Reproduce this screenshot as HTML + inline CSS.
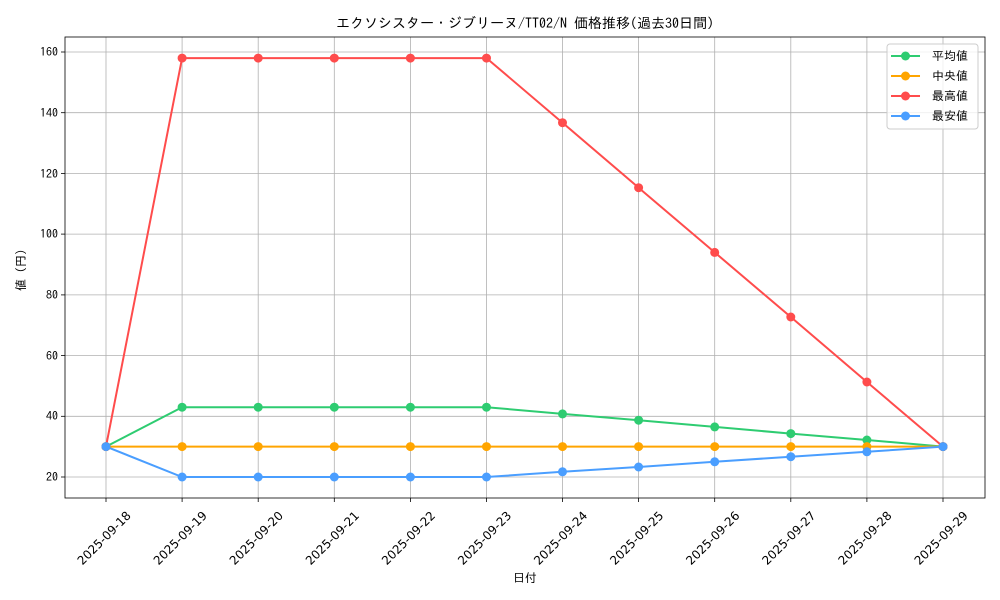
<!DOCTYPE html><html><head><meta charset="utf-8"><style>body{margin:0;background:#fff}svg{display:block;font-family:"IPAGothic","Liberation Sans","Noto Sans CJK JP",sans-serif}</style></head><body>
<svg width="1000" height="600" xmlns="http://www.w3.org/2000/svg">
<rect width="1000" height="600" fill="#fff"/>
<g stroke="#b0b0b0" stroke-width="0.8">
<line x1="106" y1="37" x2="106" y2="498"/><line x1="182.1" y1="37" x2="182.1" y2="498"/><line x1="258.2" y1="37" x2="258.2" y2="498"/><line x1="334.3" y1="37" x2="334.3" y2="498"/><line x1="410.4" y1="37" x2="410.4" y2="498"/><line x1="486.5" y1="37" x2="486.5" y2="498"/><line x1="562.5" y1="37" x2="562.5" y2="498"/><line x1="638.6" y1="37" x2="638.6" y2="498"/><line x1="714.7" y1="37" x2="714.7" y2="498"/><line x1="790.8" y1="37" x2="790.8" y2="498"/><line x1="866.9" y1="37" x2="866.9" y2="498"/><line x1="943" y1="37" x2="943" y2="498"/>
<line x1="65" y1="52" x2="985" y2="52"/><line x1="65" y1="112.7" x2="985" y2="112.7"/><line x1="65" y1="173.4" x2="985" y2="173.4"/><line x1="65" y1="234.1" x2="985" y2="234.1"/><line x1="65" y1="294.9" x2="985" y2="294.9"/><line x1="65" y1="355.6" x2="985" y2="355.6"/><line x1="65" y1="416.3" x2="985" y2="416.3"/><line x1="65" y1="477" x2="985" y2="477"/>
</g>
<rect x="65" y="37" width="920" height="461" fill="none" stroke="#000" stroke-width="0.8"/>
<g stroke="#000" stroke-width="0.8">
<line x1="61" y1="52" x2="65" y2="52"/><line x1="61" y1="112.7" x2="65" y2="112.7"/><line x1="61" y1="173.4" x2="65" y2="173.4"/><line x1="61" y1="234.1" x2="65" y2="234.1"/><line x1="61" y1="294.9" x2="65" y2="294.9"/><line x1="61" y1="355.6" x2="65" y2="355.6"/><line x1="61" y1="416.3" x2="65" y2="416.3"/><line x1="61" y1="477" x2="65" y2="477"/>
<line x1="106" y1="498" x2="106" y2="502"/><line x1="182.1" y1="498" x2="182.1" y2="502"/><line x1="258.2" y1="498" x2="258.2" y2="502"/><line x1="334.3" y1="498" x2="334.3" y2="502"/><line x1="410.4" y1="498" x2="410.4" y2="502"/><line x1="486.5" y1="498" x2="486.5" y2="502"/><line x1="562.5" y1="498" x2="562.5" y2="502"/><line x1="638.6" y1="498" x2="638.6" y2="502"/><line x1="714.7" y1="498" x2="714.7" y2="502"/><line x1="790.8" y1="498" x2="790.8" y2="502"/><line x1="866.9" y1="498" x2="866.9" y2="502"/><line x1="943" y1="498" x2="943" y2="502"/>
</g>
<g font-size="12" text-anchor="end">
<text x="58" y="56">160</text><text x="58" y="117">140</text><text x="58" y="178">120</text><text x="58" y="238">100</text><text x="58" y="299">80</text><text x="58" y="360">60</text><text x="58" y="420">40</text><text x="58" y="481">20</text>
</g>
<g font-size="12" text-anchor="middle" font-family="DejaVu Sans, sans-serif">
<text transform="translate(107,541) rotate(-45)">2025-09-18</text>
<text transform="translate(183.1,541) rotate(-45)">2025-09-19</text>
<text transform="translate(259.2,541) rotate(-45)">2025-09-20</text>
<text transform="translate(335.3,541) rotate(-45)">2025-09-21</text>
<text transform="translate(411.4,541) rotate(-45)">2025-09-22</text>
<text transform="translate(487.5,541) rotate(-45)">2025-09-23</text>
<text transform="translate(563.5,541) rotate(-45)">2025-09-24</text>
<text transform="translate(639.6,541) rotate(-45)">2025-09-25</text>
<text transform="translate(715.7,541) rotate(-45)">2025-09-26</text>
<text transform="translate(791.8,541) rotate(-45)">2025-09-27</text>
<text transform="translate(867.9,541) rotate(-45)">2025-09-28</text>
<text transform="translate(944,541) rotate(-45)">2025-09-29</text>
</g>
<text x="525" y="582" font-size="12" text-anchor="middle">日付</text>
<text transform="translate(25,270) rotate(-90)" font-size="12" text-anchor="middle">値 (円)</text>
<text x="525" y="28" font-size="14" text-anchor="middle">エクソシスター・ジブリーヌ/TT02/N 価格推移(過去30日間)</text>
<g fill="none" stroke-width="2">
<polyline stroke="#2ecc71" points="106,446.6 182.1,407.2 258.2,407.2 334.3,407.2 410.4,407.2 486.5,407.2 562.5,413.9 638.6,420.2 714.7,426.9 790.8,433.6 866.9,440 943,446.6"/>
<polyline stroke="#ffa500" points="106,446.6 943,446.6"/>
<polyline stroke="#ff4c4c" points="106,446.6 182.1,58.1 258.2,58.1 334.3,58.1 410.4,58.1 486.5,58.1 562.5,122.7 638.6,187.7 714.7,252.4 790.8,317 866.9,382 943,446.6"/>
<polyline stroke="#4a9eff" points="106,446.6 182.1,477 258.2,477 334.3,477 410.4,477 486.5,477 562.5,471.8 638.6,467 714.7,461.8 790.8,456.7 866.9,451.8 943,446.6"/>
</g>
<g fill="#2ecc71"><circle cx="106" cy="446.6" r="4.5"/><circle cx="182.1" cy="407.2" r="4.5"/><circle cx="258.2" cy="407.2" r="4.5"/><circle cx="334.3" cy="407.2" r="4.5"/><circle cx="410.4" cy="407.2" r="4.5"/><circle cx="486.5" cy="407.2" r="4.5"/><circle cx="562.5" cy="413.9" r="4.5"/><circle cx="638.6" cy="420.2" r="4.5"/><circle cx="714.7" cy="426.9" r="4.5"/><circle cx="790.8" cy="433.6" r="4.5"/><circle cx="866.9" cy="440" r="4.5"/><circle cx="943" cy="446.6" r="4.5"/></g>
<g fill="#ffa500"><circle cx="106" cy="446.6" r="4.5"/><circle cx="182.1" cy="446.6" r="4.5"/><circle cx="258.2" cy="446.6" r="4.5"/><circle cx="334.3" cy="446.6" r="4.5"/><circle cx="410.4" cy="446.6" r="4.5"/><circle cx="486.5" cy="446.6" r="4.5"/><circle cx="562.5" cy="446.6" r="4.5"/><circle cx="638.6" cy="446.6" r="4.5"/><circle cx="714.7" cy="446.6" r="4.5"/><circle cx="790.8" cy="446.6" r="4.5"/><circle cx="866.9" cy="446.6" r="4.5"/><circle cx="943" cy="446.6" r="4.5"/></g>
<g fill="#ff4c4c"><circle cx="106" cy="446.6" r="4.5"/><circle cx="182.1" cy="58.1" r="4.5"/><circle cx="258.2" cy="58.1" r="4.5"/><circle cx="334.3" cy="58.1" r="4.5"/><circle cx="410.4" cy="58.1" r="4.5"/><circle cx="486.5" cy="58.1" r="4.5"/><circle cx="562.5" cy="122.7" r="4.5"/><circle cx="638.6" cy="187.7" r="4.5"/><circle cx="714.7" cy="252.4" r="4.5"/><circle cx="790.8" cy="317" r="4.5"/><circle cx="866.9" cy="382" r="4.5"/><circle cx="943" cy="446.6" r="4.5"/></g>
<g fill="#4a9eff"><circle cx="106" cy="446.6" r="4.5"/><circle cx="182.1" cy="477" r="4.5"/><circle cx="258.2" cy="477" r="4.5"/><circle cx="334.3" cy="477" r="4.5"/><circle cx="410.4" cy="477" r="4.5"/><circle cx="486.5" cy="477" r="4.5"/><circle cx="562.5" cy="471.8" r="4.5"/><circle cx="638.6" cy="467" r="4.5"/><circle cx="714.7" cy="461.8" r="4.5"/><circle cx="790.8" cy="456.7" r="4.5"/><circle cx="866.9" cy="451.8" r="4.5"/><circle cx="943" cy="446.6" r="4.5"/></g>
<rect x="887" y="44" width="91" height="85" rx="3" fill="#fff" fill-opacity="0.8" stroke="#ccc"/>
<g stroke-width="2">
<line x1="891" y1="56" x2="920" y2="56" stroke="#2ecc71"/><circle cx="905.5" cy="56" r="4.5" fill="#2ecc71"/>
<line x1="891" y1="76" x2="920" y2="76" stroke="#ffa500"/><circle cx="905.5" cy="76" r="4.5" fill="#ffa500"/>
<line x1="891" y1="96" x2="920" y2="96" stroke="#ff4c4c"/><circle cx="905.5" cy="96" r="4.5" fill="#ff4c4c"/>
<line x1="891" y1="116" x2="920" y2="116" stroke="#4a9eff"/><circle cx="905.5" cy="116" r="4.5" fill="#4a9eff"/>
</g>
<g font-size="12"><text x="932" y="60">平均値</text><text x="932" y="80"> 中央値</text><text x="932" y="100">最高値</text><text x="932" y="120">最安値</text></g>
</svg></body></html>
